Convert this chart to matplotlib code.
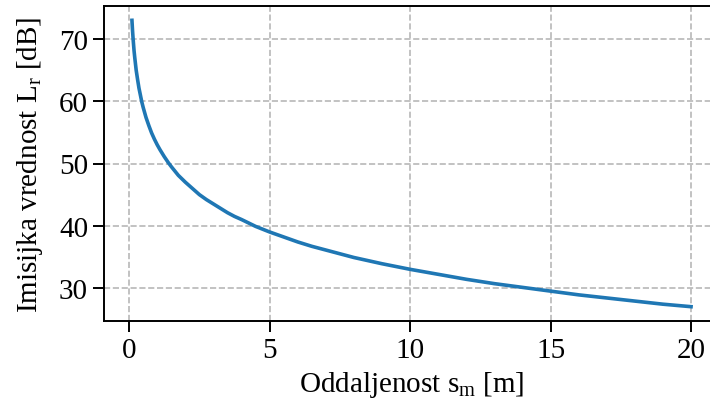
import matplotlib

matplotlib.use("Agg")
import matplotlib.pyplot as plt  # noqa: E402

# distance s_m [m] and immission level L_r [dB]
DIST = [0.1, 0.11, 0.12, 0.135, 0.15, 0.175, 0.2, 0.225, 0.25, 0.3, 0.35, 0.4, 0.45,
        0.5, 0.55, 0.6, 0.7, 0.8, 0.9, 1.0, 1.1, 1.25, 1.4, 1.5, 1.75, 2.0, 2.25, 2.5,
        2.75, 3.0, 3.25, 3.5, 3.75, 4.0, 4.5, 5.0, 5.5, 6.0, 6.5, 7.0, 7.5, 8.0, 9.0,
        10.0, 11.0, 12.0, 13.0, 14.0, 15.0, 16.0, 17.0, 18.0, 19.0, 20.0]
LEVEL = [73.0, 72.2, 71.4, 70.4, 69.5, 68.1, 67.0, 66.0, 65.0, 63.5, 62.1, 61.0, 59.9,
         59.0, 58.2, 57.4, 56.1, 54.9, 53.9, 53.0, 52.2, 51.1, 50.1, 49.5, 48.1, 47.0,
         46.0, 45.0, 44.2, 43.5, 42.8, 42.1, 41.5, 41.0, 39.9, 39.0, 38.2, 37.4, 36.7,
         36.1, 35.5, 34.9, 33.9, 33.0, 32.2, 31.4, 30.7, 30.1, 29.5, 28.9, 28.4, 27.9,
         27.4, 27.0]

XTICKS = [0, 5, 10, 15, 20]
YTICKS = [30, 40, 50, 60, 70]

plt.rcParams["font.family"] = ["Liberation Serif", "DejaVu Serif"]
plt.rcParams["mathtext.fontset"] = "custom"
plt.rcParams["mathtext.rm"] = "Liberation Serif"
plt.rcParams["mathtext.it"] = "Liberation Serif:italic"

fig = plt.figure(figsize=(7.1, 4.1), dpi=100)
# right spine falls just outside the canvas, as in the reference crop
ax = fig.add_axes([104 / 710, 88 / 410, 615 / 710, 315 / 410])

ax.plot(DIST, LEVEL, color="#1f77b4", linewidth=2.6, solid_joinstyle="round")

ax.set_xticks(XTICKS)
ax.set_yticks(YTICKS)
ax.tick_params(labelsize=21, length=8, width=1.4)
for sp in ax.spines.values():
    sp.set_linewidth(1.4)
ax.grid(True, linestyle="--", color="0.72", linewidth=1.2)
ax.set_xlabel(r"Oddaljenost s$_\mathrm{m}$ [m]", fontsize=21)
ax.set_ylabel(r"Imisijka vrednost L$_\mathrm{r}$ [dB]", fontsize=21, labelpad=10)

fig.savefig("out.png", dpi=100)
